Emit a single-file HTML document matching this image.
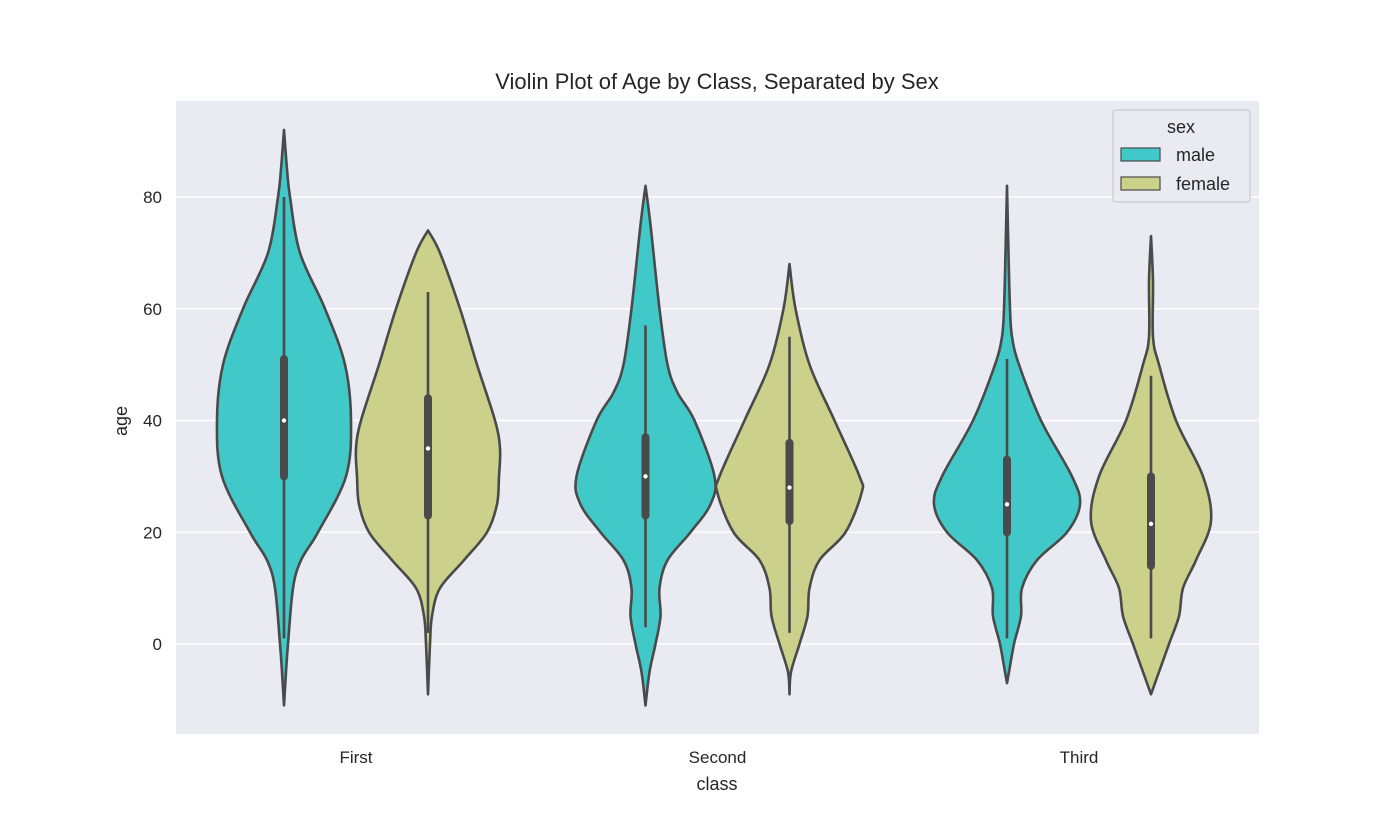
<!DOCTYPE html>
<html><head><meta charset="utf-8"><style>
html,body{margin:0;padding:0;background:#fff;}
svg{display:block;font-family:"Liberation Sans","DejaVu Sans",sans-serif;}
</style></head><body>
<svg id="chart" width="1400" height="840" viewBox="0 0 1400 840" xmlns="http://www.w3.org/2000/svg">
<rect x="0" y="0" width="1400" height="840" fill="#ffffff"/>
<rect x="176" y="101" width="1083" height="633" fill="#eaeaf2"/>
<g id="grid"></g>
<g id="violins"></g>
<g id="yticks"></g>
<g id="xticks"></g>
<text x="717" y="89" text-anchor="middle" font-size="22" fill="#262626">Violin Plot of Age by Class, Separated by Sex</text>
<text x="717" y="790" text-anchor="middle" font-size="18" fill="#262626">class</text>
<text transform="translate(127,421) rotate(-90)" text-anchor="middle" font-size="18" fill="#262626">age</text>
<g>
<rect x="1113" y="110" width="137" height="92" rx="3" fill="#eaeaf2" fill-opacity="0.85" stroke="#cccccc" stroke-width="1.2"/>
<text x="1181" y="133" text-anchor="middle" font-size="18" fill="#262626">sex</text>
<rect x="1121" y="148" width="39" height="13" fill="#41c8c8" stroke="#4a4a4a" stroke-width="1.2"/>
<text x="1176" y="161" font-size="18" fill="#262626">male</text>
<rect x="1121" y="177" width="39" height="13" fill="#cbd18a" stroke="#4a4a4a" stroke-width="1.2"/>
<text x="1176" y="190" font-size="18" fill="#262626">female</text>
</g>
</svg>
<script>
const categories = ["First", "Second", "Third"];
const hues = ["male", "female"];
const yTicks = [0, 20, 40, 60, 80];
// density profiles: ages and half-widths (relative, px-equivalent at max scale)
const firstMaleAges = [-11, -5, 0, 10, 15, 20, 30, 40, 50, 60, 70, 80, 85, 92];
const firstMaleDens = [0, 2, 4, 9, 17, 34, 62, 67, 61, 41, 16, 6, 3, 0];
const firstFemaleAges = [-9, 0, 5, 10, 15, 20, 25, 30, 35, 40, 50, 60, 70, 74];
const firstFemaleDens = [0, 2, 4, 12, 36, 59, 69, 71, 72, 67, 49, 32, 12, 0];
const secondMaleAges = [-11, -5, 0, 5, 10, 15, 20, 25, 30, 40, 45, 50, 60, 75, 82];
const secondMaleDens = [0, 4, 10, 15, 14, 22, 45, 65, 69, 49, 32, 22, 14, 5, 0];
const secondFemaleAges = [-9, -5, 0, 5, 10, 15, 20, 27, 30, 40, 50, 60, 68];
const secondFemaleDens = [0, 1.5, 10, 18, 20, 30, 56, 72, 70, 45, 20, 6, 0];
const thirdMaleAges = [-7, -5, 0, 5, 10, 15, 20, 25, 30, 40, 50, 55, 60, 70, 82];
const thirdMaleDens = [0, 2, 7, 14, 15, 30, 60, 73, 65, 34, 12, 5, 3, 1.5, 0];
const thirdFemaleAges = [-9, -5, 0, 5, 10, 15, 22, 30, 40, 50, 55, 65, 73];
const thirdFemaleDens = [0, 8, 18, 28, 32, 45, 60, 52, 25, 8, 2, 2, 0];
// box stats [whiskerLow, q1, median, q3, whiskerHigh]
const firstMaleBox = [1, 30, 40, 51, 80];
const firstFemaleBox = [2, 23, 35, 44, 63];
const secondMaleBox = [3, 23, 30, 37, 57];
const secondFemaleBox = [2, 22, 28, 36, 55];
const thirdMaleBox = [1, 20, 25, 33, 51];
const thirdFemaleBox = [1, 14, 21.5, 30, 48];

const series = [
 {cat:0,hue:0,ages:firstMaleAges,dens:firstMaleDens,box:firstMaleBox},
 {cat:0,hue:1,ages:firstFemaleAges,dens:firstFemaleDens,box:firstFemaleBox},
 {cat:1,hue:0,ages:secondMaleAges,dens:secondMaleDens,box:secondMaleBox},
 {cat:1,hue:1,ages:secondFemaleAges,dens:secondFemaleDens,box:secondFemaleBox},
 {cat:2,hue:0,ages:thirdMaleAges,dens:thirdMaleDens,box:thirdMaleBox},
 {cat:2,hue:1,ages:thirdFemaleAges,dens:thirdFemaleDens,box:thirdFemaleBox}
];
const colors = ["#41c8c8", "#cbd18a"];
const NS = "http://www.w3.org/2000/svg";
function yScale(v){ return 644 - v * 5.5875; }
function xCat(i){ return 356 + i * 361.5; }
function xHue(c,h){ return xCat(c) + (h === 0 ? -72 : 72); }

const grid = document.getElementById("grid");
const yt = document.getElementById("yticks");
yTicks.forEach(t => {
  const l = document.createElementNS(NS, "line");
  l.setAttribute("x1", 176); l.setAttribute("x2", 1259);
  l.setAttribute("y1", yScale(t)); l.setAttribute("y2", yScale(t));
  l.setAttribute("stroke", "#ffffff"); l.setAttribute("stroke-width", "1.6");
  
  
  grid.appendChild(l);
  const tx = document.createElementNS(NS, "text");
  tx.setAttribute("x", 162); tx.setAttribute("y", yScale(t) + 6);
  tx.setAttribute("text-anchor", "end"); tx.setAttribute("font-size", "17");
  tx.setAttribute("fill", "#262626");
  tx.textContent = t;
  
  
  yt.appendChild(tx);
});
const xt = document.getElementById("xticks");
categories.forEach((c, i) => {
  const tx = document.createElementNS(NS, "text");
  tx.setAttribute("x", xCat(i)); tx.setAttribute("y", 763);
  tx.setAttribute("text-anchor", "middle"); tx.setAttribute("font-size", "17");
  tx.setAttribute("fill", "#262626");
  tx.textContent = c;
  
  
  xt.appendChild(tx);
});

function smoothPath(pts){
  let d = "M" + pts[0][0] + "," + pts[0][1];
  for (let i = 0; i < pts.length - 1; i++){
    const p0 = pts[i-1] || pts[i], p1 = pts[i], p2 = pts[i+1], p3 = pts[i+2] || p2;
    const c1x = p1[0] + (p2[0]-p0[0])/6, c1y = p1[1] + (p2[1]-p0[1])/6;
    const c2x = p2[0] - (p3[0]-p1[0])/6, c2y = p2[1] - (p3[1]-p1[1])/6;
    d += " C" + c1x + "," + c1y + " " + c2x + "," + c2y + " " + p2[0] + "," + p2[1];
  }
  return d;
}
const vg = document.getElementById("violins");
series.forEach(s => {
  const cx = xHue(s.cat, s.hue);
  const right = s.ages.map((a,i) => [cx + s.dens[i], yScale(a)]);
  const left = s.ages.map((a,i) => [cx - s.dens[i], yScale(a)]).reverse();
  const d = smoothPath(right) + " L" + smoothPath(left).slice(1) + " Z";
  const name = categories[s.cat].toLowerCase() + '-' + hues[s.hue];
  const p = document.createElementNS(NS, "path");
  p.setAttribute("d", d);
  p.setAttribute("fill", colors[s.hue]);
  p.setAttribute("stroke", "#4a4a4a"); p.setAttribute("stroke-width", "2.6");
  p.setAttribute("stroke-linejoin", "round");
  
  
  vg.appendChild(p);
  const w = document.createElementNS(NS, "line");
  w.setAttribute("x1", cx); w.setAttribute("x2", cx);
  w.setAttribute("y1", yScale(s.box[0])); w.setAttribute("y2", yScale(s.box[4]));
  w.setAttribute("stroke", "#4a4a4a"); w.setAttribute("stroke-width", "2.6");
  
  
  vg.appendChild(w);
  const b = document.createElementNS(NS, "line");
  b.setAttribute("x1", cx); b.setAttribute("x2", cx);
  b.setAttribute("y1", yScale(s.box[1])); b.setAttribute("y2", yScale(s.box[3]));
  b.setAttribute("stroke", "#4a4a4a"); b.setAttribute("stroke-width", "8");
  b.setAttribute("stroke-linecap", "round");
  
  
  vg.appendChild(b);
  const m = document.createElementNS(NS, "circle");
  m.setAttribute("cx", cx); m.setAttribute("cy", yScale(s.box[2]));
  m.setAttribute("r", "2.2"); m.setAttribute("fill", "#ffffff");
  
  
  vg.appendChild(m);
});
</script>
</body></html>
